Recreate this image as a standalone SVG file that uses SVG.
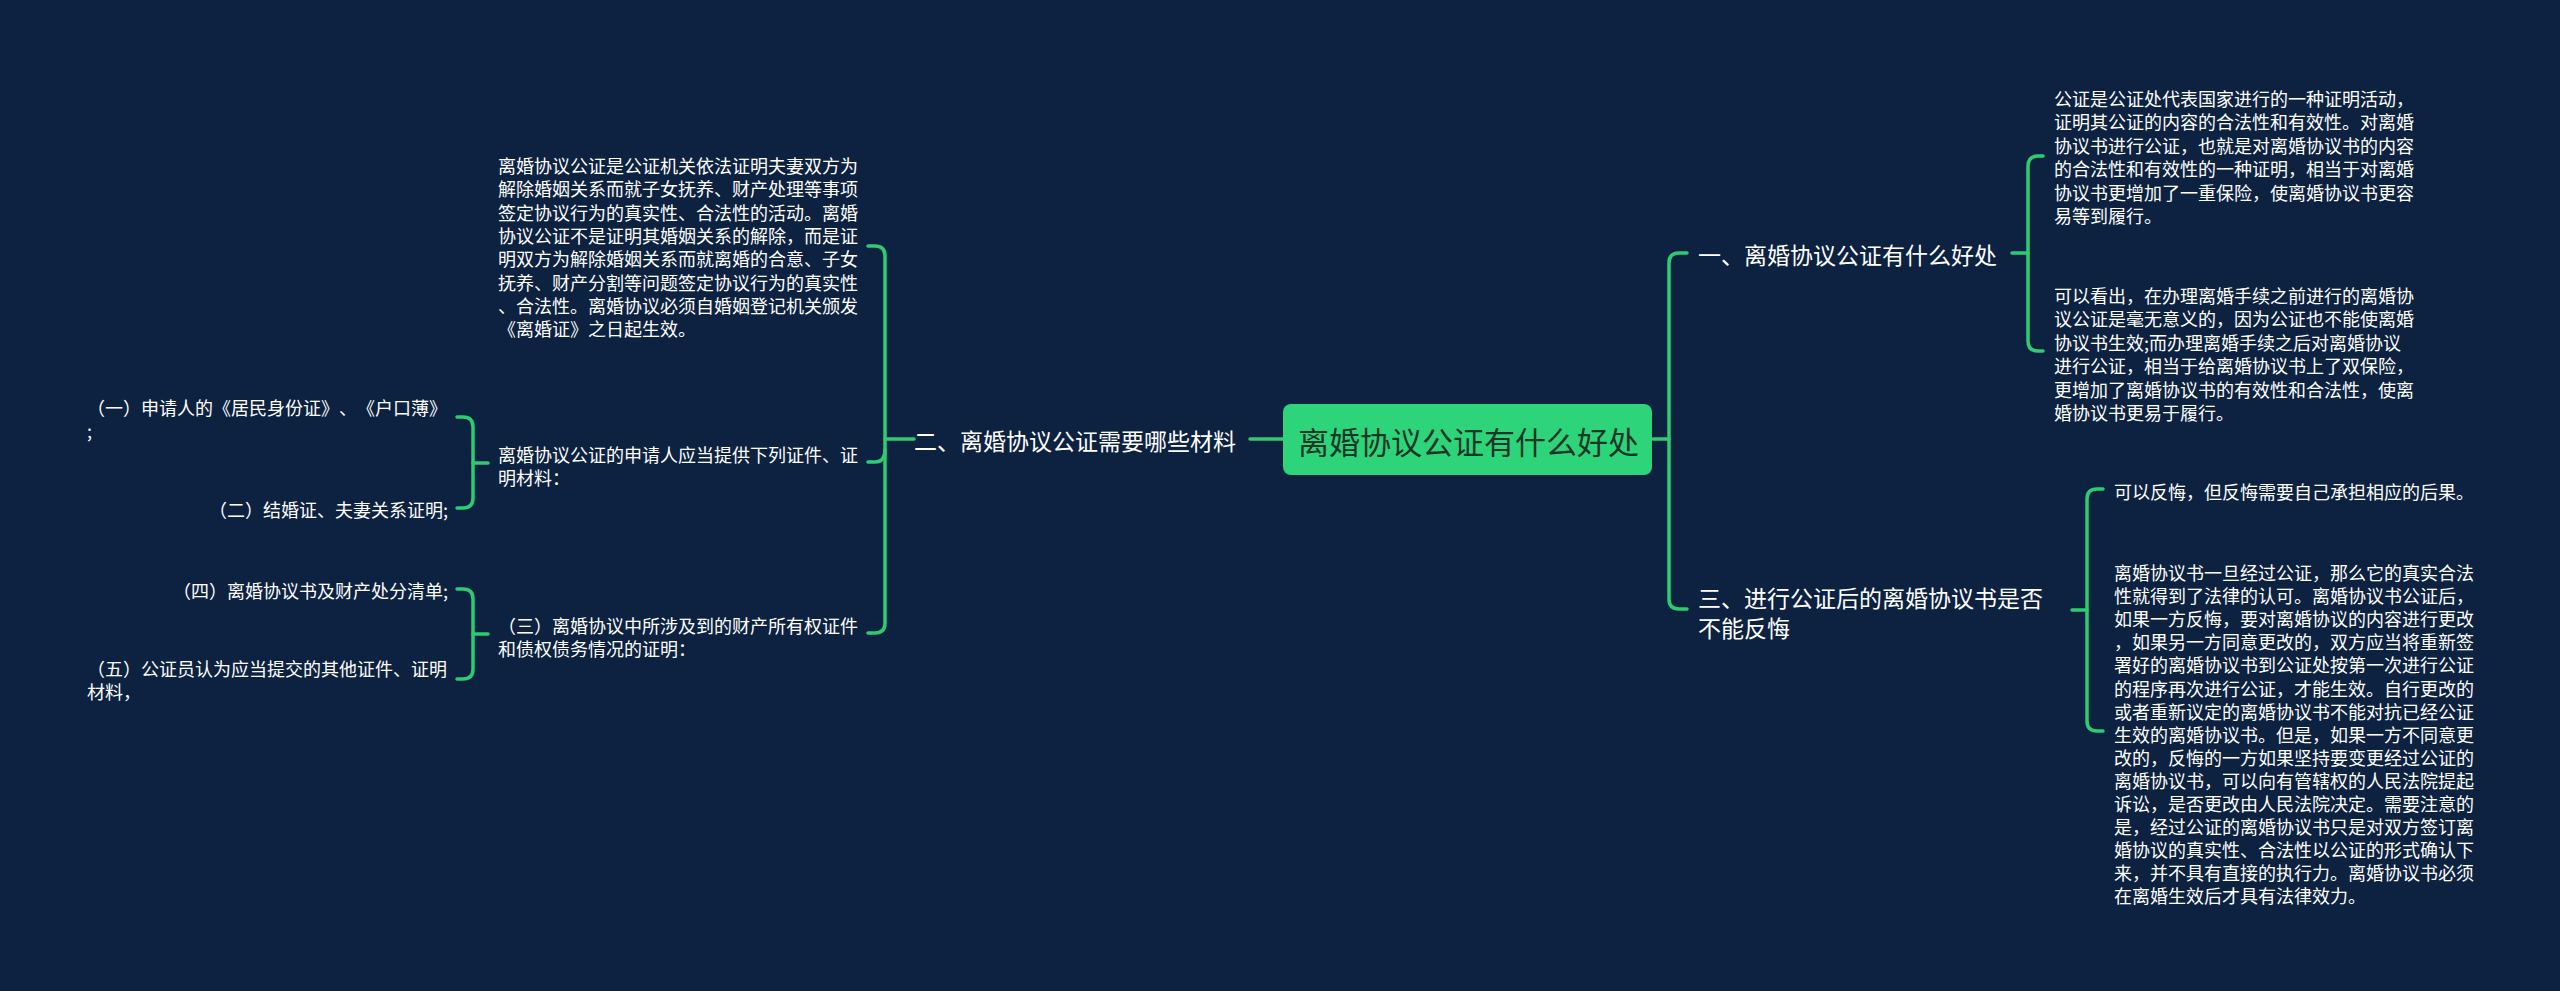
<svg xmlns="http://www.w3.org/2000/svg" width="2560" height="991" viewBox="0 0 2560 991">
<style>
text{font-family:"Noto Sans CJK SC","Microsoft YaHei",sans-serif;fill:#ffffff;dominant-baseline:central;text-spacing-trim:space-all}
.s{font-size:18px}
.b{font-size:23px}
.c{font-size:31px;fill:#1c3527}
.ln{fill:none;stroke:#2ecc71;stroke-width:3.5;stroke-linecap:round}
</style>
<rect width="2560" height="991" fill="#0c2240"/>
<g id="connectors">
<path class="ln" d="M1283,439 H1250"/>
<path class="ln" d="M914,439 H885"/>
<path class="ln" d="M868,246 H875 Q885,246 885,256 V623 Q885,633 875,633 H868"/>
<path class="ln" d="M885,450 Q885,462 875,462 H868"/>
<path class="ln" d="M488,463 H473"/>
<path class="ln" d="M457,417 H463 Q473,417 473,427 V498 Q473,508 463,508 H457"/>
<path class="ln" d="M488,634 H473"/>
<path class="ln" d="M457,589 H463 Q473,589 473,599 V669 Q473,679 463,679 H457"/>
<path class="ln" d="M1653,439 H1669"/>
<path class="ln" d="M1687,253 H1679 Q1669,253 1669,263 V599 Q1669,609 1679,609 H1687"/>
<path class="ln" d="M2012,253 H2028"/>
<path class="ln" d="M2043,156 H2038 Q2028,156 2028,166 V341 Q2028,351 2038,351 H2043"/>
<path class="ln" d="M2072,610 H2087"/>
<path class="ln" d="M2103,489 H2097 Q2087,489 2087,499 V721 Q2087,731 2097,731 H2103"/>
</g>
<g id="root">
<rect x="1283" y="404" width="369" height="71" rx="8" fill="#2ed47a"/>
<text class="c" x="1298" y="440">离婚协议公证有什么好处</text>
</g>
<g id="n-branch2">
<text class="b" x="914" y="440">二、离婚协议公证需要哪些材料</text>
</g>
<g id="n-b2-a">
<text class="s"><tspan x="498" y="165">离婚协议公证是公证机关依法证明夫妻双方为</tspan><tspan x="498" y="188.3">解除婚姻关系而就子女抚养、财产处理等事项</tspan><tspan x="498" y="211.6">签定协议行为的真实性、合法性的活动。离婚</tspan><tspan x="498" y="234.9">协议公证不是证明其婚姻关系的解除，而是证</tspan><tspan x="498" y="258.2">明双方为解除婚姻关系而就离婚的合意、子女</tspan><tspan x="498" y="281.5">抚养、财产分割等问题签定协议行为的真实性</tspan><tspan x="498" y="304.8">、合法性。离婚协议必须自婚姻登记机关颁发</tspan><tspan x="498" y="328.1">《离婚证》之日起生效。</tspan></text>
</g>
<g id="n-b2-b">
<text class="s"><tspan x="498" y="454">离婚协议公证的申请人应当提供下列证件、证</tspan><tspan x="498" y="477.3">明材料：</tspan></text>
</g>
<g id="n-b2-c">
<text class="s"><tspan x="498" y="625">（三）离婚协议中所涉及到的财产所有权证件</tspan><tspan x="498" y="648.3">和债权债务情况的证明：</tspan></text>
</g>
<g id="n-b2-b-1">
<text class="s"><tspan x="87" y="407">（一）申请人的《居民身份证》、《户口薄》</tspan><tspan x="87" y="430.3">;</tspan></text>
</g>
<g id="n-b2-b-2">
<text class="s" x="448" y="509" text-anchor="end">（二）结婚证、夫妻关系证明;</text>
</g>
<g id="n-b2-c-1">
<text class="s" x="448" y="590" text-anchor="end">（四）离婚协议书及财产处分清单;</text>
</g>
<g id="n-b2-c-2">
<text class="s"><tspan x="87" y="668">（五）公证员认为应当提交的其他证件、证明</tspan><tspan x="87" y="691.3">材料，</tspan></text>
</g>
<g id="n-branch1">
<text class="b" x="1698" y="254">一、离婚协议公证有什么好处</text>
</g>
<g id="n-b1-a">
<text class="s"><tspan x="2054" y="98">公证是公证处代表国家进行的一种证明活动，</tspan><tspan x="2054" y="121.4">证明其公证的内容的合法性和有效性。对离婚</tspan><tspan x="2054" y="144.8">协议书进行公证，也就是对离婚协议书的内容</tspan><tspan x="2054" y="168.2">的合法性和有效性的一种证明，相当于对离婚</tspan><tspan x="2054" y="191.6">协议书更增加了一重保险，使离婚协议书更容</tspan><tspan x="2054" y="215">易等到履行。</tspan></text>
</g>
<g id="n-b1-b">
<text class="s"><tspan x="2054" y="295">可以看出，在办理离婚手续之前进行的离婚协</tspan><tspan x="2054" y="318.4">议公证是毫无意义的，因为公证也不能使离婚</tspan><tspan x="2054" y="341.8">协议书生效;而办理离婚手续之后对离婚协议</tspan><tspan x="2054" y="365.2">进行公证，相当于给离婚协议书上了双保险，</tspan><tspan x="2054" y="388.6">更增加了离婚协议书的有效性和合法性，使离</tspan><tspan x="2054" y="412">婚协议书更易于履行。</tspan></text>
</g>
<g id="n-branch3">
<text class="b"><tspan x="1698" y="597">三、进行公证后的离婚协议书是否</tspan><tspan x="1698" y="627">不能反悔</tspan></text>
</g>
<g id="n-b3-a">
<text class="s" x="2114" y="491">可以反悔，但反悔需要自己承担相应的后果。</text>
</g>
<g id="n-b3-b">
<text class="s"><tspan x="2114" y="572">离婚协议书一旦经过公证，那么它的真实合法</tspan><tspan x="2114" y="595.1">性就得到了法律的认可。离婚协议书公证后，</tspan><tspan x="2114" y="618.2">如果一方反悔，要对离婚协议的内容进行更改</tspan><tspan x="2114" y="641.3">，如果另一方同意更改的，双方应当将重新签</tspan><tspan x="2114" y="664.4">署好的离婚协议书到公证处按第一次进行公证</tspan><tspan x="2114" y="687.5">的程序再次进行公证，才能生效。自行更改的</tspan><tspan x="2114" y="710.6">或者重新议定的离婚协议书不能对抗已经公证</tspan><tspan x="2114" y="733.7">生效的离婚协议书。但是，如果一方不同意更</tspan><tspan x="2114" y="756.8">改的，反悔的一方如果坚持要变更经过公证的</tspan><tspan x="2114" y="779.9">离婚协议书，可以向有管辖权的人民法院提起</tspan><tspan x="2114" y="803">诉讼，是否更改由人民法院决定。需要注意的</tspan><tspan x="2114" y="826.1">是，经过公证的离婚协议书只是对双方签订离</tspan><tspan x="2114" y="849.2">婚协议的真实性、合法性以公证的形式确认下</tspan><tspan x="2114" y="872.3">来，并不具有直接的执行力。离婚协议书必须</tspan><tspan x="2114" y="895.4">在离婚生效后才具有法律效力。</tspan></text>
</g>
</svg>
